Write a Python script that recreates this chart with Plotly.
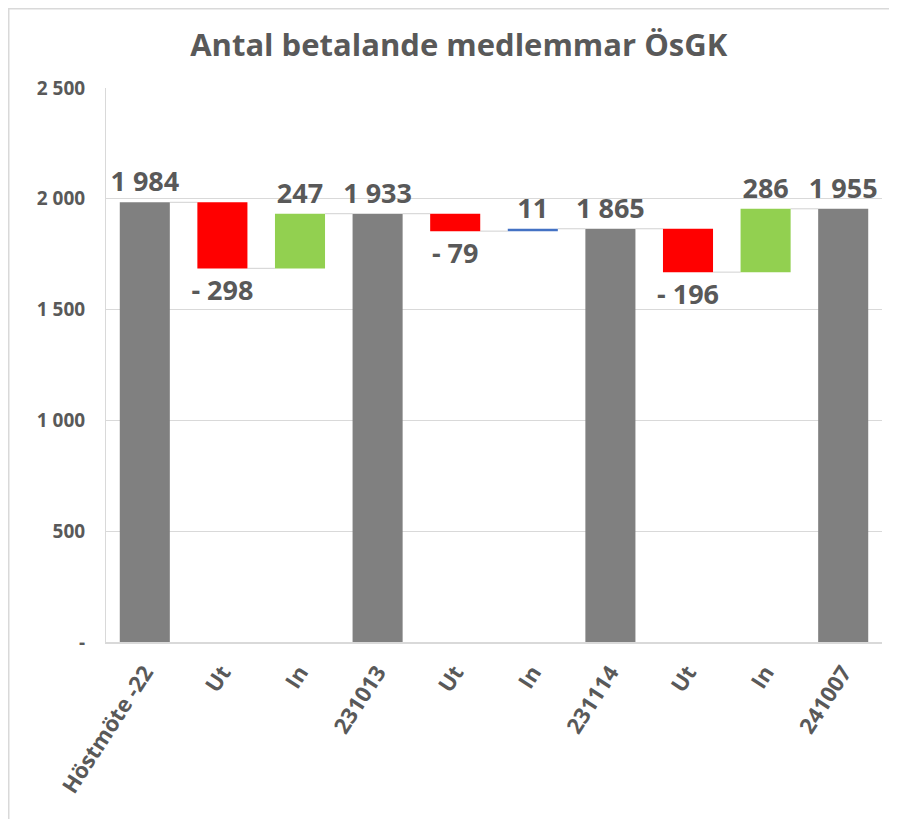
import plotly.graph_objects as go

categories = ["Höstmöte -22", "Ut", "In", "231013", "Ut", "In", "231114", "Ut", "In", "241007"]
values = [1984, -298, 247, 1933, -79, 11, 1865, -196, 286, 1955]
measures = ["total", "rel", "rel", "total", "rel", "rel", "total", "rel", "rel", "total"]
y_ticks = [0, 500, 1000, 1500, 2000, 2500]
y_tick_labels = ["-", "500", "1 000", "1 500", "2 000", "2 500"]

GRAY = "#808080"
RED = "#FF0000"
GREEN = "#92D050"
BLUE = "#4472C4"
TXT = "#595959"
LINE = "#D9D9D9"
FONT = "Open Sans"

bases, heights, colors, labels = [], [], [], []
level = 0
for cat, v, m in zip(categories, values, measures):
    if m == "total":
        bases.append(0)
        heights.append(v)
        colors.append(GRAY)
        level = v
        labels.append(f"{v:,}".replace(",", " "))
    else:
        bases.append(level)
        heights.append(v)
        if v < 0:
            colors.append(RED)
            labels.append(f"- {abs(v)}")
        elif v < 20:
            colors.append(BLUE)
            labels.append(f"{v}")
        else:
            colors.append(GREEN)
            labels.append(f"{v}")
        level = level + v

xs = list(range(len(categories)))
W = 0.645

FIG_W, FIG_H = 889, 811
ML, MT, PW, PH = 98, 80, 776, 554

fig = go.Figure()
fig.add_trace(go.Bar(
    x=xs, y=heights, base=bases, width=W,
    marker=dict(color=colors, line=dict(width=0)),
    text=labels, textposition="outside", constraintext="none", cliponaxis=False,
    textfont=dict(family=FONT, size=27, color=TXT, weight="bold"),
    hoverinfo="skip",
))

# connectors
shapes = []
level = 0
for i, (v, m) in enumerate(zip(values, measures)):
    level = v if m == "total" else level + v
    if i < len(values) - 1:
        shapes.append(dict(type="line", xref="x", yref="y",
                           x0=i + W / 2, x1=i + 1 - W / 2, y0=level, y1=level,
                           line=dict(color=LINE, width=1.2), layer="below"))

# outer chart border
shapes.append(dict(type="rect", xref="paper", yref="paper",
                   x0=-(ML - 0.75) / PW, x1=1.2, y0=-0.5, y1=1 + (MT - 0.75) / PH,
                   line=dict(color=LINE, width=1.5), fillcolor="rgba(0,0,0,0)"))

fig.update_layout(
    width=FIG_W, height=FIG_H,
    margin=dict(l=ML, r=FIG_W - ML - PW, t=MT, b=FIG_H - MT - PH),
    paper_bgcolor="white", plot_bgcolor="white",
    showlegend=False,
    bargap=0.355,
    title=dict(text="<b>Antal betalande medlemmar ÖsGK</b>", x=0.507, xanchor="center",
               y=1 - 37 / FIG_H, yanchor="middle",
               font=dict(family=FONT, size=31, color=TXT)),
    font=dict(family=FONT, color=TXT),
    shapes=shapes,
    xaxis=dict(
        tickvals=xs, ticktext=categories, tickangle=-57,
        range=[-0.5, len(categories) - 0.5],
        showline=True, linecolor=LINE, linewidth=1.5,
        showgrid=False, ticks="outside", ticklen=7, tickcolor="rgba(0,0,0,0)",
        tickfont=dict(family=FONT, size=22, color=TXT, weight="bold"),
    ),
    yaxis=dict(
        range=[0, 2500], tickvals=y_ticks, ticktext=y_tick_labels,
        showgrid=True, gridcolor=LINE, gridwidth=1,
        showline=True, linecolor=LINE, linewidth=1,
        zeroline=False,
        ticks="outside", ticklen=16, tickcolor="rgba(0,0,0,0)",
        tickfont=dict(family=FONT, size=19, color=TXT, weight="bold"),
    ),
)

fig.write_html("out.html")
